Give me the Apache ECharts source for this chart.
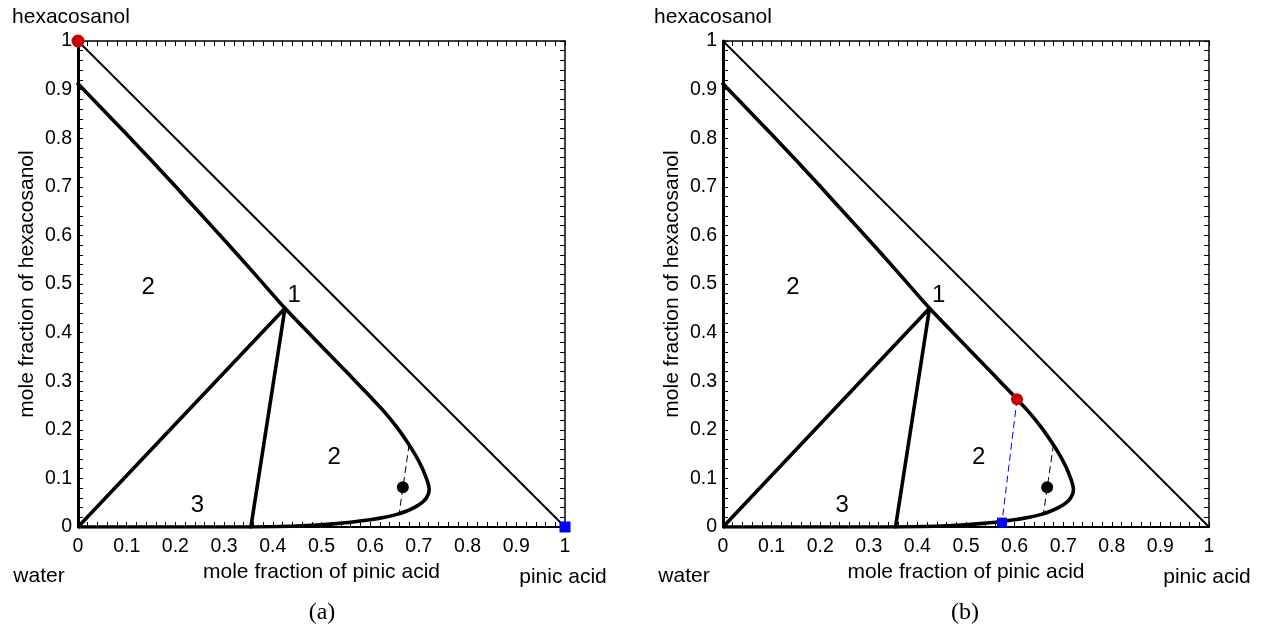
<!DOCTYPE html>
<html><head><meta charset="utf-8">
<script src="https://cdn.jsdelivr.net/npm/echarts@6/dist/echarts.min.js"></script>
<style>html,body{margin:0;padding:0;background:#fff}#c{width:1269px;height:639px}</style>
</head><body><div id="c"></div>
<script>
// ---- data ----
const tickValues = [0, 0.1, 0.2, 0.3, 0.4, 0.5, 0.6, 0.7, 0.8, 0.9, 1];
const tickLabels = ['0', '0.1', '0.2', '0.3', '0.4', '0.5', '0.6', '0.7', '0.8', '0.9', '1'];
const diagonal = [[0, 1], [1, 0]];
const binodal = [
  [0, 0.912], [0.05, 0.860], [0.1, 0.808], [0.15, 0.755], [0.2, 0.701], [0.25, 0.646],
  [0.3, 0.591], [0.36, 0.524], [0.425, 0.45],
  [0.5, 0.372], [0.56, 0.31], [0.58, 0.289], [0.606, 0.262], [0.63, 0.236],
  [0.655, 0.205], [0.676, 0.175], [0.693, 0.148], [0.706, 0.123], [0.715, 0.101],
  [0.7195, 0.087], [0.721, 0.078], [0.7195, 0.068], [0.714, 0.058], [0.705, 0.049],
  [0.692, 0.041], [0.675, 0.033], [0.655, 0.026], [0.63, 0.02], [0.6, 0.015],
  [0.53, 0.007], [0.45, 0.002], [0.355, 0]
];
const threePhase = [[0, 0], [0.425, 0.45], [0.355, 0], [0, 0]];
const tieLineOverall = [[0.680, 0.17], [0.659, 0.025]];
const overallPoint = [[0.667, 0.082]];
const panelARed = [[0, 1]];
const panelABlue = [[1, 0]];
const tieLineB = [[0.605, 0.263], [0.574, 0.009]];
const panelBRed = [[0.605, 0.263]];
const panelBBlue = [[0.574, 0.009]];
const regionLabels = [[0.144, 0.494, '2'], [0.444, 0.477, '1'], [0.526, 0.144, '2'], [0.245, 0.045, '3']];
const xName = 'mole fraction of pinic acid';
const yName = 'mole fraction of hexacosanol';

// ---- chart ----
const SANS = 'Liberation Sans, Arial, Helvetica, sans-serif';
const fmt = v => { const i = tickValues.findIndex(t => Math.abs(t - v) < 1e-6); return i >= 0 ? tickLabels[i] : ''; };
const grids = [
  { left: 78, top: 41, width: 487, height: 486 },
  { left: 723, top: 41, width: 486, height: 486 }
];
const xAxes = [], yAxes = [], series = [];
function tickCfg() {
  return {
    axisTick: { show: true, inside: true, length: 5, lineStyle: { color: '#000', width: 1 } },
    minorTick: { show: true, splitNumber: 5, length: 5, lineStyle: { color: '#000', width: 1 } },
    splitLine: { show: false }, minorSplitLine: { show: false }
  };
}
grids.forEach((g, gi) => {
  xAxes.push(Object.assign({
    gridIndex: gi, type: 'value', min: 0, max: 1, interval: 0.1, position: 'bottom',
    axisLine: { show: true, onZero: false, lineStyle: { color: '#000', width: 2 } },
    axisLabel: { show: true, formatter: fmt, color: '#000', fontSize: 19.5, fontFamily: SANS, margin: 10 },
    name: xName, nameLocation: 'middle', nameGap: 29,
    nameTextStyle: { color: '#000', fontSize: 21, fontFamily: SANS }
  }, tickCfg()));
  xAxes.push(Object.assign({
    gridIndex: gi, type: 'value', min: 0, max: 1, interval: 0.1, position: 'top',
    axisLine: { show: true, onZero: false, lineStyle: { color: '#000', width: 1.5 } },
    axisLabel: { show: false }
  }, tickCfg()));
  yAxes.push(Object.assign({
    gridIndex: gi, type: 'value', min: 0, max: 1, interval: 0.1, position: 'left',
    axisLine: { show: true, onZero: false, lineStyle: { color: '#000', width: 3 } },
    axisLabel: { show: true, formatter: fmt, color: '#000', fontSize: 19.5, fontFamily: SANS, margin: 6 },
    name: yName, nameLocation: 'middle', nameGap: 40, nameRotate: 90,
    nameTextStyle: { color: '#000', fontSize: 21, fontFamily: SANS }
  }, tickCfg()));
  yAxes.push(Object.assign({
    gridIndex: gi, type: 'value', min: 0, max: 1, interval: 0.1, position: 'right',
    axisLine: { show: true, onZero: false, lineStyle: { color: '#000', width: 1.5 } },
    axisLabel: { show: false }
  }, tickCfg()));
  const xi = gi * 2, yi = gi * 2;
  const line = (data, width, extra) => Object.assign({
    type: 'line', xAxisIndex: xi, yAxisIndex: yi, data, showSymbol: false, symbol: 'none',
    lineStyle: { color: '#000', width }, silent: true, animation: false, z: 3
  }, extra || {});
  series.push(line(diagonal, 2));
  series.push(line(binodal, 3.6, { smooth: 0.2, lineStyle: { color: '#000', width: 3.6, join: 'round', cap: 'round' } }));
  series.push(line(threePhase, 3.6, { lineStyle: { color: '#000', width: 3.6, join: 'round' } }));
  series.push(line(tieLineOverall, 1, { lineStyle: { color: '#000', width: 1, type: [7, 4] } }));
  const scat = (data, symbol, size, color) => ({
    type: 'scatter', xAxisIndex: xi, yAxisIndex: yi, data, symbol, symbolSize: size,
    itemStyle: { color, opacity: 1 }, clip: false, silent: true, animation: false, z: 5
  });
  series.push(scat(overallPoint, 'circle', 12, '#000'));
  if (gi === 0) {
    series.push(scat(panelARed, 'circle', 13, '#cc0000'));
    series.push(scat(panelABlue, 'rect', 11, '#0000ff'));
  } else {
    series.push(line(tieLineB, 1, { lineStyle: { color: '#0000ff', width: 1, type: [7, 4] } }));
    series.push(scat(panelBRed, 'circle', 12, '#cc0000'));
    series.push(scat(panelBBlue, 'rect', 10, '#0000ff'));
  }
  series.push({
    type: 'scatter', xAxisIndex: xi, yAxisIndex: yi, data: regionLabels, symbolSize: 0,
    itemStyle: { color: '#000', opacity: 1 }, silent: true, animation: false, z: 6,
    label: { show: true, position: 'inside', formatter: p => p.value[2], color: '#000',
      textBorderWidth: 0, opacity: 1, fontSize: 24, fontFamily: SANS }
  });
});

const txt = (text, x, y, size, family) => ({
  type: 'text', x, y, silent: true,
  style: { text, fill: '#000', fontSize: size, fontFamily: family || SANS, align: 'center', verticalAlign: 'middle' }
});
const chart = echarts.init(document.getElementById('c'), null, { renderer: 'canvas' });
chart.setOption({
  backgroundColor: '#fff',
  animation: false,
  grid: grids,
  xAxis: xAxes,
  yAxis: yAxes,
  series,
  graphic: [
    txt('hexacosanol', 71, 17, 21),
    txt('hexacosanol', 713, 17, 21),
    txt('water', 39, 576, 21),
    txt('pinic acid', 563, 577, 21),
    txt('water', 684, 576, 21),
    txt('pinic acid', 1207, 577, 21),
    txt('(a)', 322, 613, 24, 'Liberation Serif, DejaVu Serif, serif'),
    txt('(b)', 965, 613, 24, 'Liberation Serif, DejaVu Serif, serif')
  ]
});
</script>
</body></html>
